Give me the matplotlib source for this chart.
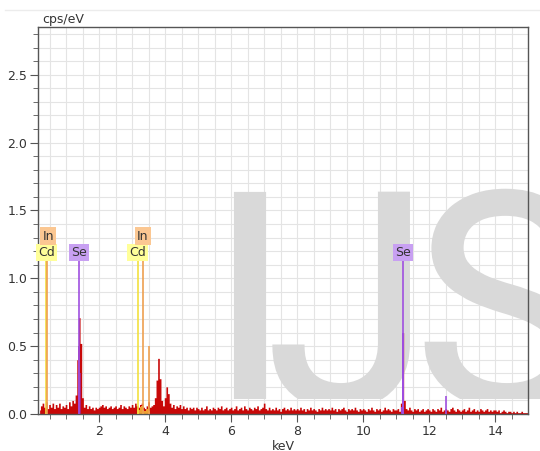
import numpy as np
import matplotlib
matplotlib.use("Agg")
import matplotlib.pyplot as plt
import matplotlib.patheffects as pe
from matplotlib.lines import Line2D
from matplotlib.transforms import Bbox, TransformedBbox

# spectrum, 0.05 keV channels
energy_low = np.round(np.arange(0.20, 4.99, 0.05), 2)
counts_low = [
    0.03, 0.06, 0.08, 0.05, 0.09, 0.04, 0.07, 0.05, 0.08, 0.04,
    0.07, 0.05, 0.08, 0.04, 0.06, 0.05, 0.07, 0.04, 0.09, 0.06,
    0.10, 0.08, 0.14, 0.40, 0.71, 0.52, 0.12, 0.05, 0.07, 0.04,
    0.06, 0.04, 0.05, 0.03, 0.05, 0.04, 0.05, 0.06, 0.07, 0.05,
    0.06, 0.04, 0.05, 0.06, 0.04, 0.05, 0.06, 0.04, 0.05, 0.07,
    0.04, 0.06, 0.05, 0.04, 0.06, 0.05, 0.07, 0.05, 0.08, 0.06,
    0.05, 0.07, 0.08, 0.05, 0.04, 0.06, 0.09, 0.05, 0.06, 0.07,
    0.12, 0.25, 0.41, 0.26, 0.10, 0.06, 0.12, 0.20, 0.15, 0.08,
    0.05, 0.07, 0.04, 0.06, 0.05, 0.07, 0.04, 0.06, 0.04, 0.05,
    0.03, 0.05, 0.04, 0.05, 0.03, 0.05,
]
energy_high = np.round(np.arange(5.00, 15.001, 0.05), 2)
counts_high = [
    0.04, 0.03, 0.05, 0.03, 0.04, 0.06, 0.03, 0.04, 0.03, 0.05,
    0.04, 0.03, 0.05, 0.04, 0.06, 0.03, 0.04, 0.05, 0.03, 0.04,
    0.05, 0.03, 0.04, 0.06, 0.03, 0.04, 0.05, 0.03, 0.06, 0.04,
    0.03, 0.05, 0.04, 0.03, 0.05, 0.04, 0.06, 0.03, 0.04, 0.05,
    0.08, 0.04, 0.03, 0.05, 0.03, 0.04, 0.03, 0.05, 0.03, 0.04,
    0.02, 0.04, 0.05, 0.03, 0.04, 0.03, 0.05, 0.03, 0.04, 0.03,
    0.04, 0.03, 0.05, 0.03, 0.04, 0.02, 0.04, 0.03, 0.05, 0.03,
    0.04, 0.03, 0.02, 0.04, 0.03, 0.05, 0.03, 0.04, 0.03, 0.04,
    0.03, 0.05, 0.03, 0.04, 0.02, 0.04, 0.03, 0.04, 0.05, 0.03,
    0.02, 0.04, 0.03, 0.04, 0.03, 0.05, 0.03, 0.02, 0.04, 0.03,
    0.04, 0.03, 0.02, 0.04, 0.03, 0.05, 0.03, 0.02, 0.04, 0.03,
    0.04, 0.02, 0.03, 0.05, 0.03, 0.04, 0.03, 0.02, 0.04, 0.03,
    0.03, 0.04, 0.02, 0.08, 0.60, 0.10, 0.04, 0.03, 0.05, 0.03,
    0.02, 0.04, 0.03, 0.04, 0.02, 0.03, 0.04, 0.02, 0.03, 0.04,
    0.03, 0.02, 0.04, 0.03, 0.02, 0.04, 0.03, 0.05, 0.02, 0.03,
    0.04, 0.03, 0.02, 0.04, 0.05, 0.03, 0.02, 0.04, 0.03, 0.02,
    0.03, 0.04, 0.02, 0.03, 0.05, 0.02, 0.03, 0.04, 0.02, 0.03,
    0.02, 0.04, 0.03, 0.02, 0.03, 0.04, 0.02, 0.03, 0.02, 0.03,
    0.03, 0.02, 0.03, 0.01, 0.02, 0.03, 0.02, 0.01, 0.02, 0.02,
    0.01, 0.02, 0.01, 0.02, 0.01, 0.01, 0.02, 0.01, 0.01, 0.01,
    0.01,
]

# element-coloured parts of the peaks
se_l_energy = [1.35, 1.40, 1.45]
se_l_counts = [0.28, 0.50, 0.30]
se_k_energy = [11.15, 11.20, 11.25]
se_k_counts = [0.05, 0.60, 0.06]
cdin_energy = [3.15, 3.20, 3.25, 3.30, 3.35, 3.40, 3.45, 3.50, 3.55]
cdin_counts = [0.04, 0.03, 0.05, 0.06, 0.03, 0.02, 0.04, 0.06, 0.02]

# element marker lines
elements = ["Cd", "In", "Se"]
line_energy = {"Cd": [0.38, 3.19], "In": [0.41, 3.32, 3.51], "Se": [1.40, 11.21, 12.52]}
line_top = {"Cd": [1.13, 1.13], "In": [1.25, 1.25, 0.50], "Se": [1.13, 1.13, 0.13]}
label_pos = {"Cd": [(0.41, 1.19), (3.17, 1.19)],
             "In": [(0.46, 1.31), (3.32, 1.31)],
             "Se": [(1.40, 1.19), (11.21, 1.19)]}
line_color = {"Cd": "#f2e040", "In": "#eea050", "Se": "#a050e0"}
box_color = {"Cd": "#ffff99", "In": "#fbc792", "Se": "#c8a0f2"}

W, H = 540, 451
fig = plt.figure(figsize=(W / 100, H / 100), dpi=100)
ax = fig.add_axes([38.3 / W, 1 - 414 / H, 490 / W, (414 - 26.7) / H])

energy = np.concatenate([energy_low, energy_high])
counts = np.concatenate([counts_low, counts_high])

red = "#c80808"
ax.fill_between(energy, counts, step="mid", color=red, lw=0, zorder=2)
ax.fill_between(se_l_energy, se_l_counts, step="mid", color="#a8207a", lw=0, zorder=2.1)
ax.fill_between(se_k_energy, se_k_counts, step="mid", color="#9a40d8", lw=0, zorder=2.1)
ax.fill_between(cdin_energy, cdin_counts, step="mid", color="#f0a030", lw=0, zorder=2.1)

for el in elements:
    ax.vlines(line_energy[el], 0, line_top[el], color=line_color[el], lw=1.2, zorder=3)
    for x, y in label_pos[el]:
        ax.text(x, y, el, ha="center", va="center", fontsize=9, color="#333333", zorder=4,
                bbox=dict(boxstyle="square,pad=0.18", fc=box_color[el], ec="none"))

# watermark, clipped just above the baseline
wm = "#d9d9d9"
clip_box = TransformedBbox(Bbox([[0, 0.11], [20, 5]]), ax.transData)
for ch, x in [("I", 5.35), ("J", 7.08), ("S", 11.57)]:
    t = ax.text(x, 0.066, ch, fontsize=214, family="Roboto", color=wm,
                ha="left", va="baseline", zorder=1,
                path_effects=[pe.withStroke(linewidth=3, foreground=wm, joinstyle="miter")])
    t.set_clip_path(None)
    t.set_clip_box(clip_box)
    t.set_clip_on(True)

ax.set_xlim(0.16, 15.0)
ax.set_ylim(0, 2.854)
ax.set_xticks([2, 4, 6, 8, 10, 12, 14])
ax.set_xticks(np.arange(0.5, 15.0, 0.5), minor=True)
ax.set_yticks([0, 0.5, 1.0, 1.5, 2.0, 2.5])
ax.set_yticks(np.arange(0.1, 2.85, 0.1), minor=True)
ax.set_yticklabels(["0.0", "0.5", "1.0", "1.5", "2.0", "2.5"])
ax.set_axisbelow(True)
ax.grid(True, which="both", color="#e4e4e4", lw=0.8)
ax.tick_params(which="major", length=6, color="#555555", labelsize=9, labelcolor="#333333", pad=2)
ax.tick_params(which="minor", length=3.5, color="#555555")
for s in ax.spines.values():
    s.set_color("#555555")
    s.set_linewidth(1.0)

ax.set_xlabel("keV", fontsize=9, color="#333333", labelpad=1)
ax.text(0.008, 1.003, "cps/eV", transform=ax.transAxes, fontsize=9, color="#333333",
        ha="left", va="bottom")

fig.add_artist(Line2D([0.01, 1.0], [1 - 10 / H] * 2, transform=fig.transFigure,
                      color="#ececec", lw=1))

fig.savefig("out.png", dpi=100)
